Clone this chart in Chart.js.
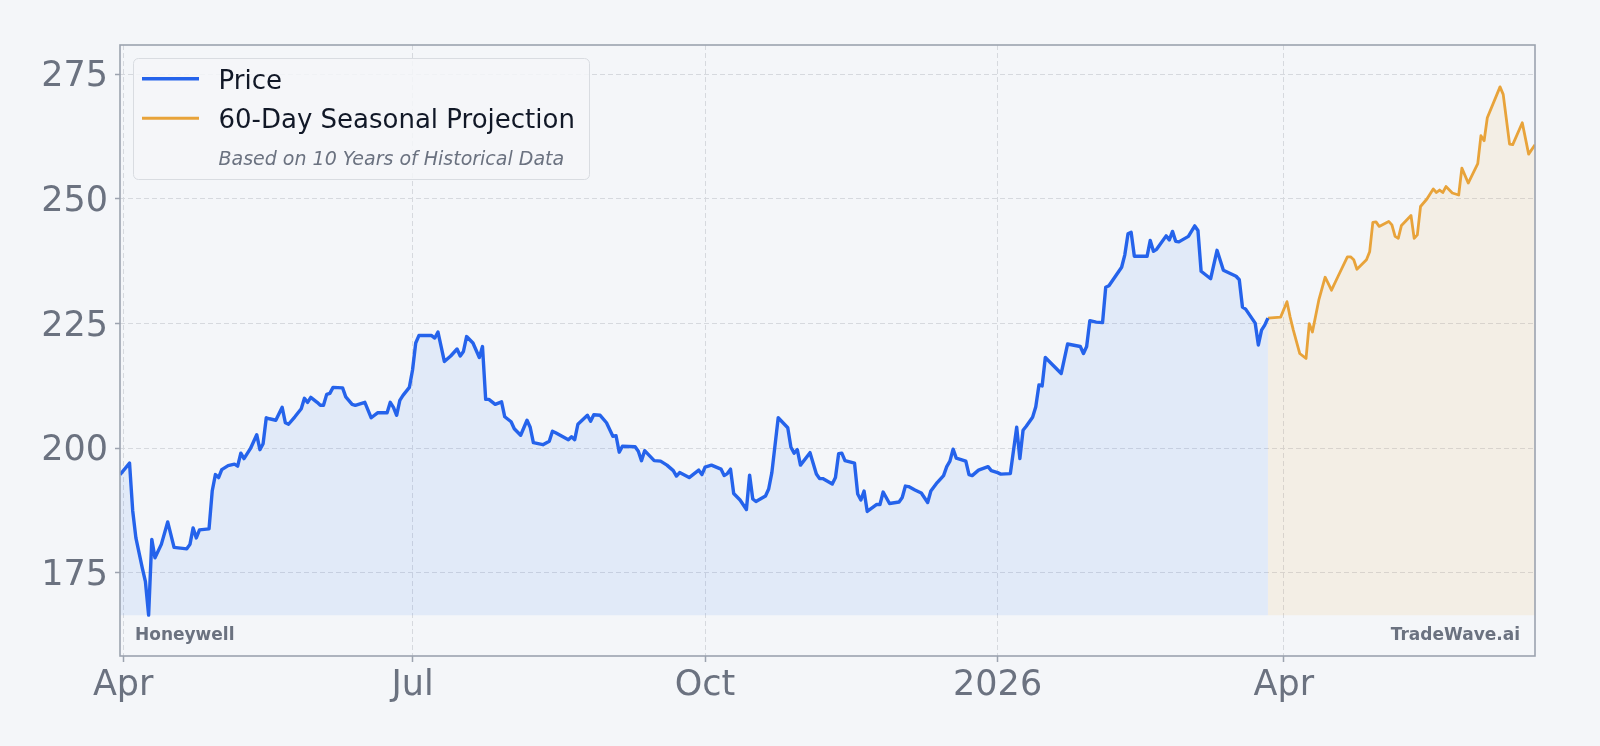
<!DOCTYPE html>
<html>
<head>
<meta charset="utf-8">
<script src="https://cdn.jsdelivr.net/npm/chart.js@4.4.1/dist/chart.umd.min.js"></script>
<style>
  html, body { margin: 0; padding: 0; background: #f4f6f9; }
  #wrap { width: 1600px; height: 746px; }
</style>
</head>
<body>
<div id="wrap"><canvas id="c" width="1600" height="746"></canvas></div>
<script>
// Days counted from 2025-04-01 (day 0)
const priceDays = [-1,2,3,4,6,7,8,9,10,12,14,16,20,21,22,23,24,27,28,29,30,31,33,35,36,37,38,40,42,43,44,45,46,48,50,51,52,54,56,57,58,59,61,62,63,64,65,66,69,70,72,73,76,78,80,83,84,85,86,87,88,90,91,92,93,97,98,99,100,101,103,105,106,107,108,110,112,113,114,115,117,119,120,122,123,125,127,128,129,132,134,135,136,140,141,142,143,146,147,148,150,152,154,155,156,157,161,162,163,164,167,169,171,173,174,175,178,181,182,183,185,188,189,190,191,192,194,196,197,198,199,202,203,204,206,209,210,211,212,213,216,218,219,220,223,224,225,226,227,230,231,232,233,234,237,238,239,241,244,245,246,247,249,251,253,254,256,258,259,260,261,262,265,266,267,269,272,273,275,276,279,281,282,283,284,286,287,288,289,290,295,297,301,302,303,304,306,308,309,310,314,315,316,317,318,322,323,324,325,328,329,330,331,332,335,337,338,339,342,344,346,350,351,352,353,356,357,358,359,360];
const priceValues = [194.7,197.0,187.4,182.0,176.0,173.2,166.5,181.7,178.0,180.7,185.2,180.1,179.8,180.7,184.0,182.0,183.6,183.8,191.4,194.7,194.1,195.7,196.5,196.8,196.4,199.0,197.9,199.9,202.7,199.7,200.9,206.1,205.9,205.6,208.2,205.1,204.8,206.3,207.9,210.0,209.2,210.2,209.2,208.6,208.6,210.8,211.0,212.2,212.1,210.3,208.8,208.6,209.2,206.1,207.1,207.1,209.2,208.2,206.6,209.6,210.6,212.2,215.7,221.1,222.6,222.6,222.1,223.3,220.4,217.4,218.5,219.9,218.5,219.4,222.4,221.1,218.2,220.4,209.8,209.8,208.8,209.3,206.3,205.3,203.9,202.6,205.6,204.2,201.1,200.7,201.4,203.4,203.1,201.7,202.3,201.7,204.8,206.6,205.4,206.7,206.6,205.1,202.4,202.5,199.2,200.4,200.3,199.4,197.5,199.5,197.5,197.4,196.6,195.5,194.4,195.1,194.1,195.6,194.7,196.2,196.6,195.8,194.5,194.9,195.8,190.9,189.6,187.7,194.6,189.8,189.3,190.4,191.8,195.1,206.1,204.1,200.2,199.0,199.7,196.6,199.1,194.8,193.9,193.9,192.8,194.1,198.9,199.0,197.5,197.0,190.8,189.6,191.4,187.3,188.7,188.7,191.2,188.9,189.2,190.1,192.4,192.3,191.6,191.0,189.1,191.4,193.1,194.5,196.3,197.4,199.8,198.0,197.4,194.7,194.5,195.6,196.3,195.5,195.1,194.8,194.9,204.2,197.9,203.6,204.4,206.2,208.3,212.7,212.5,218.2,215.0,220.9,220.4,219.0,220.4,225.6,225.3,225.2,232.3,232.6,236.3,238.8,243.0,243.3,238.5,238.5,241.7,239.5,239.9,242.6,241.8,243.5,241.5,241.4,242.5,244.6,243.7,235.5,234.0,239.7,235.7,234.5,233.8,228.3,227.9,225.1,220.7,223.7,224.7,226.1];

const projDays = [360,364,366,367,368,370,372,373,374,376,378,380,382,385,386,387,388,391,392,393,394,395,398,399,400,401,402,405,406,407,408,410,412,413,414,415,416,418,420,421,423,426,427,428,429,433,434,436,437,440,442,444];
const projValues = [226.1,226.3,229.4,226.3,223.7,219.0,218.0,225.0,223.3,229.7,234.3,231.7,234.4,238.4,238.4,237.8,235.9,237.8,239.4,245.3,245.4,244.5,245.5,244.8,242.5,242.1,244.7,246.7,242.1,242.8,248.5,250.0,252.0,251.3,251.8,251.3,252.5,251.2,250.8,256.2,253.2,257.1,262.7,261.7,266.3,272.5,271.0,261.0,260.9,265.3,259.0,260.9];

const xTickDays = [0, 91, 183, 275, 365];
const xTickLabels = ['Apr', 'Jul', 'Oct', '2026', 'Apr'];
const yTickValues = [175, 200, 225, 250, 275];

const seriesNames = ['Price', '60-Day Seasonal Projection'];
const legendNote = 'Based on 10 Years of Historical Data';
const brandLeft = 'Honeywell';
const brandRight = 'TradeWave.ai';

const fillBase = Math.min(...priceValues, ...projValues);

const FONT = "'DejaVu Sans', 'Liberation Sans', sans-serif";
const BLUE = '#2563eb';
const ORANGE = '#e8a33a';

const bgPlugin = {
  id: 'bg',
  beforeDraw(chart) {
    const ctx = chart.ctx;
    ctx.save();
    ctx.fillStyle = '#f4f6f9';
    ctx.fillRect(0, 0, chart.width, chart.height);
    ctx.restore();
  }
};

const decorPlugin = {
  id: 'decor',
  afterDraw(chart) {
    const ctx = chart.ctx;
    const a = chart.chartArea;
    ctx.save();
    // plot frame
    ctx.strokeStyle = '#9ca3af';
    ctx.lineWidth = 1.6;
    ctx.strokeRect(a.left, a.top, a.right - a.left, a.bottom - a.top);

    // watermarks
    ctx.fillStyle = '#6b7280';
    ctx.font = "bold 17px " + FONT;
    ctx.textBaseline = 'alphabetic';
    ctx.textAlign = 'left';
    ctx.fillText(brandLeft, a.left + 15, 640);
    ctx.textAlign = 'right';
    ctx.fillText(brandRight, a.right - 15, 640);

    // legend
    const lx = 133.5, ly = 58.5, lw = 456, lh = 121, r = 5;
    ctx.beginPath();
    ctx.moveTo(lx + r, ly);
    ctx.lineTo(lx + lw - r, ly);
    ctx.arcTo(lx + lw, ly, lx + lw, ly + r, r);
    ctx.lineTo(lx + lw, ly + lh - r);
    ctx.arcTo(lx + lw, ly + lh, lx + lw - r, ly + lh, r);
    ctx.lineTo(lx + r, ly + lh);
    ctx.arcTo(lx, ly + lh, lx, ly + lh - r, r);
    ctx.lineTo(lx, ly + r);
    ctx.arcTo(lx, ly, lx + r, ly, r);
    ctx.closePath();
    ctx.fillStyle = 'rgba(244,246,249,0.85)';
    ctx.fill();
    ctx.strokeStyle = '#d9dce1';
    ctx.lineWidth = 1;
    ctx.stroke();

    ctx.lineCap = 'butt';
    ctx.strokeStyle = BLUE; ctx.lineWidth = 3.5;
    ctx.beginPath(); ctx.moveTo(142, 78.7); ctx.lineTo(199, 78.7); ctx.stroke();
    ctx.strokeStyle = ORANGE; ctx.lineWidth = 3;
    ctx.beginPath(); ctx.moveTo(142, 118.3); ctx.lineTo(199, 118.3); ctx.stroke();

    ctx.textAlign = 'left';
    ctx.textBaseline = 'alphabetic';
    ctx.fillStyle = '#111827';
    ctx.font = "26px " + FONT;
    ctx.fillText(seriesNames[0], 218.5, 88.5);
    ctx.fillText(seriesNames[1], 218.5, 128);
    ctx.fillStyle = '#6b7280';
    ctx.font = "italic 19px " + FONT;
    ctx.fillText(legendNote, 218.5, 165);
    ctx.restore();
  }
};

const ctx = document.getElementById('c').getContext('2d');
new Chart(ctx, {
  type: 'line',
  data: {
    datasets: [
      {
        label: seriesNames[0],
        data: priceDays.map((d, i) => ({ x: d, y: priceValues[i] })),
        borderColor: BLUE,
        borderWidth: 3.4,
        backgroundColor: 'rgba(59,130,246,0.1)',
        fill: { value: fillBase },
        pointRadius: 0,
        tension: 0,
        borderJoinStyle: 'round'
      },
      {
        label: seriesNames[1],
        data: projDays.map((d, i) => ({ x: d, y: projValues[i] })),
        borderColor: ORANGE,
        borderWidth: 2.8,
        backgroundColor: 'rgba(232,163,58,0.1)',
        fill: { value: fillBase },
        pointRadius: 0,
        tension: 0,
        borderJoinStyle: 'round'
      }
    ]
  },
  options: {
    responsive: false,
    animation: false,
    devicePixelRatio: 1,
    layout: { padding: { top: 45, right: 65, left: 0, bottom: 0 } },
    plugins: { legend: { display: false }, tooltip: { enabled: false } },
    scales: {
      x: {
        type: 'linear',
        min: -1,
        max: 444,
        afterBuildTicks: (s) => { s.ticks = xTickDays.map(v => ({ value: v })); },
        afterFit: (s) => { s.height = 90; },
        ticks: {
          autoSkip: false,
          maxRotation: 0,
          padding: 6,
          color: '#6b7280',
          font: { family: FONT, size: 35, lineHeight: 1.0 },
          callback: (v) => { const i = xTickDays.indexOf(v); return i >= 0 ? xTickLabels[i] : ''; }
        },
        grid: { color: '#d6d9de', lineWidth: 1, tickLength: 6, tickColor: '#9ca3af', tickWidth: 1.5, tickBorderDash: [] },
        border: { display: false, dash: [5, 3] }
      },
      y: {
        min: 158.3,
        max: 280.9,
        afterBuildTicks: (s) => { s.ticks = yTickValues.map(v => ({ value: v })); },
        afterFit: (s) => { s.width = 120; },
        ticks: {
          padding: 7,
          labelOffset: 3,
          color: '#6b7280',
          font: { family: FONT, size: 35 },
          callback: (v) => String(v)
        },
        grid: { color: '#d6d9de', lineWidth: 1, tickLength: 5, tickColor: '#9ca3af', tickWidth: 1.5, tickBorderDash: [] },
        border: { display: false, dash: [5, 3] }
      }
    }
  },
  plugins: [bgPlugin, decorPlugin]
});
</script>
</body>
</html>
